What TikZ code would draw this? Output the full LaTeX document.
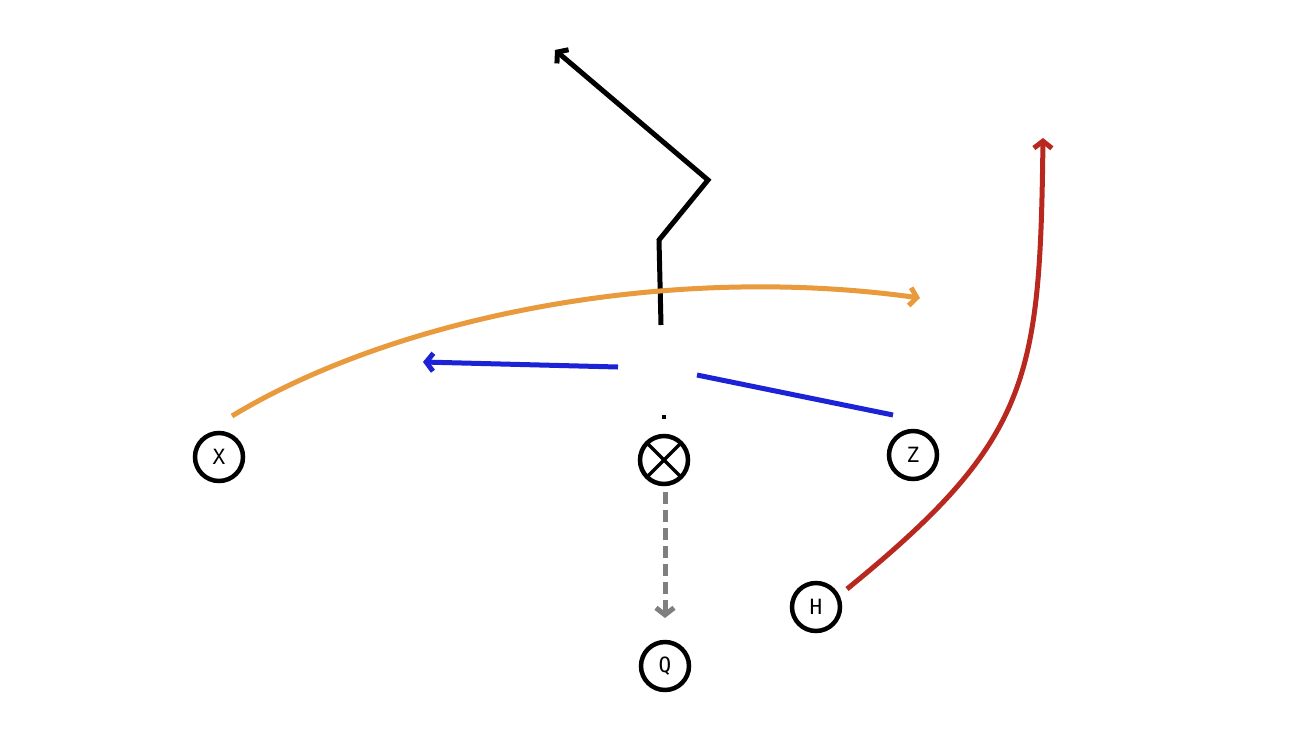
\documentclass[tikz,border=0pt]{standalone}
\usepackage{fontspec}
\setmonofont{DejaVu Sans Mono}
\usetikzlibrary{arrows.meta}
\definecolor{routeorange}{HTML}{E89A3C}
\definecolor{routeblue}{HTML}{1C22D6}
\definecolor{routered}{HTML}{B8281F}
\definecolor{routegray}{HTML}{7F7F7F}
\begin{document}
\begin{tikzpicture}[x=1pt,y=-1pt,
  player/.style={circle,draw=black,line width=4.5pt,minimum size=48pt,inner sep=0pt,
    font=\ttfamily\fontsize{21}{21}\selectfont},
  route/.style={line width=5pt,line cap=butt,-{Straight Barb[length=7pt,width=18pt,line width=5pt]}},
  plain/.style={line width=5pt}]
\useasboundingbox (0,0) rectangle (1296,729);
\fill[white] (0,0) rectangle (1296,729);

% players
\node[player] (X) at (219,457) {X};
\node[player] (Z) at (913,455) {Z};
\node[player] (H) at (816,607) {H};
\node[player] (Q) at (665,666) {Q};
\node[player,path picture={
  \draw[line width=3.5pt] (path picture bounding box.north west) -- (path picture bounding box.south east);
  \draw[line width=3.5pt] (path picture bounding box.north east) -- (path picture bounding box.south west);}] (C) at (664,460) {};

% small dot
\fill[black] (661.5,414.5) rectangle (665.5,418.5);

% route points
\coordinate (b0) at (661,325);
\coordinate (b1) at (659,240);
\coordinate (b2) at (708,180);
\coordinate (b3) at (555,50);
\coordinate (o0) at (232,416);
\coordinate (o1) at (920,298);
\coordinate (u0) at (893,415);
\coordinate (u1) at (697,375);
\coordinate (u2) at (618,367);
\coordinate (u3) at (423,362);
\coordinate (r0) at (847,589);
\coordinate (r1) at (1043,138);
\coordinate (g0) at (665,492);
\coordinate (g1) at (665,618);

% black route
\draw[route,black,line join=miter] (b0) -- (b1) -- (b2) -- (b3);
% orange route
\draw[route,routeorange] (o0) .. controls (390,320) and (660,262) .. (o1);
% blue route
\draw[plain,routeblue] (u0) -- (u1);
\draw[route,routeblue] (u2) -- (u3);
% red route
\draw[route,routered] (r0) .. controls (1030,440) and (1040,380) .. (r1);
% gray dashed
\draw[route,routegray,dash pattern=on 12pt off 6pt] (g0) -- (g1);
\end{tikzpicture}
\end{document}
